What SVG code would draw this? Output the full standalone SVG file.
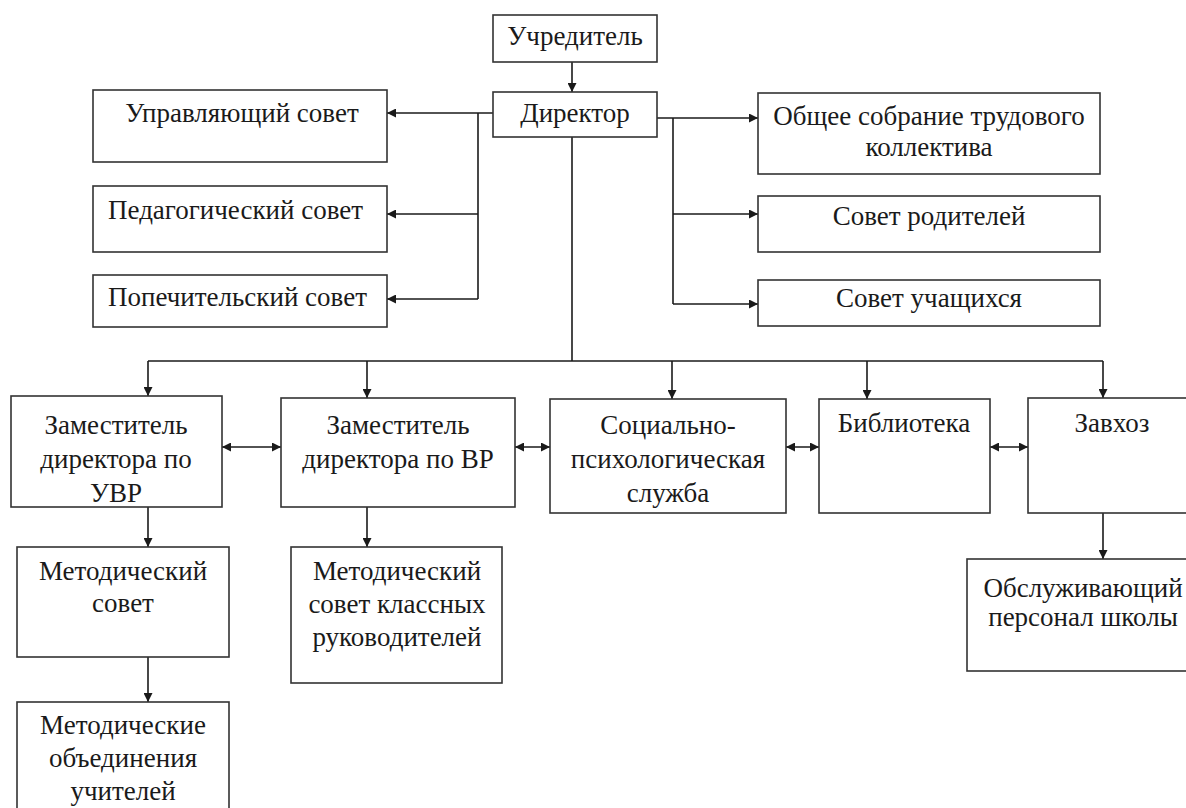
<svg xmlns="http://www.w3.org/2000/svg" width="1186" height="808" viewBox="0 0 1186 808">
<style>
.box{fill:#fff;stroke:#333;stroke-width:1.6}
text{font-family:'Liberation Serif','Times New Roman','DejaVu Serif',serif;font-size:27px;fill:#1a1a1a}
.t{text-anchor:middle}
.tl{text-anchor:start}
.c{fill:none;stroke:#1a1a1a;stroke-width:1.6}
.a{fill:none;stroke:#1a1a1a;stroke-width:1.6;marker-end:url(#ah)}
.d{fill:none;stroke:#1a1a1a;stroke-width:1.6;marker-start:url(#ah);marker-end:url(#ah)}
</style>
<defs>
<marker id="ah" viewBox="0 0 10 10" refX="10" refY="5" markerUnits="userSpaceOnUse" markerWidth="10" markerHeight="9" orient="auto-start-reverse">
<path d="M0,0 L10,5 L0,10 z" fill="#1a1a1a"/>
</marker>
</defs>
<rect width="1186" height="808" fill="#fff"/>

<g id="connectors">
<path class="a" d="M572,62 V92"/>
<path class="a" d="M493,113 H387"/>
<path class="c" d="M478,113 V299"/>
<path class="a" d="M478,214 H387"/>
<path class="a" d="M478,299 H387"/>
<path class="a" d="M657,118 H758"/>
<path class="c" d="M673,118 V304"/>
<path class="a" d="M673,214 H758"/>
<path class="a" d="M673,304 H758"/>
<path class="c" d="M572,137 V361"/>
<path class="c" d="M148,361 H1103"/>
<path class="a" d="M148,361 V396"/>
<path class="a" d="M367,361 V398"/>
<path class="a" d="M672,361 V399"/>
<path class="a" d="M867,361 V399"/>
<path class="a" d="M1103,361 V398"/>
<path class="d" d="M222,447 H281"/>
<path class="d" d="M515,447 H550"/>
<path class="d" d="M786,447 H819"/>
<path class="d" d="M990,447 H1028"/>
<path class="a" d="M148,507 V547"/>
<path class="a" d="M148,657 V702"/>
<path class="a" d="M367,507 V547"/>
<path class="a" d="M1103,513 V559"/>
</g>

<g id="uchreditel"><rect class="box" x="493" y="15" width="164" height="47"/><text class="t" x="575" y="45">Учредитель</text></g>
<g id="direktor"><rect class="box" x="493" y="92" width="164" height="45"/><text class="t" x="575" y="122">Директор</text></g>

<g id="upr-sovet"><rect class="box" x="93" y="90" width="294" height="72"/><text class="t" x="242" y="122">Управляющий совет</text></g>
<g id="ped-sovet"><rect class="box" x="93" y="186" width="294" height="66"/><text class="tl" x="108" y="219">Педагогический совет</text></g>
<g id="pop-sovet"><rect class="box" x="93" y="275" width="294" height="52"/><text class="tl" x="108" y="306">Попечительский совет</text></g>

<g id="obshee-sobranie"><rect class="box" x="758" y="93" width="342" height="81"/><text class="t" x="929" y="125">Общее собрание трудового</text><text class="t" x="929" y="156">коллектива</text></g>
<g id="sovet-roditeley"><rect class="box" x="758" y="196" width="342" height="56"/><text class="t" x="929" y="225">Совет родителей</text></g>
<g id="sovet-uchashchikhsya"><rect class="box" x="758" y="280" width="342" height="46"/><text class="t" x="929" y="307">Совет учащихся</text></g>

<g id="zam-uvr"><rect class="box" x="11" y="396" width="211" height="111"/><text class="t" x="116" y="434">Заместитель</text><text class="t" x="116" y="468">директора по</text><text class="t" x="116" y="502">УВР</text></g>
<g id="zam-vr"><rect class="box" x="281" y="398" width="234" height="109"/><text class="t" x="398" y="434">Заместитель</text><text class="t" x="398" y="468">директора по ВР</text></g>
<g id="social"><rect class="box" x="550" y="399" width="236" height="114"/><text class="t" x="668" y="434">Социально-</text><text class="t" x="668" y="468">психологическая</text><text class="t" x="668" y="502">служба</text></g>
<g id="biblioteka"><rect class="box" x="819" y="399" width="171" height="114"/><text class="t" x="904" y="432">Библиотека</text></g>
<g id="zavkhoz"><rect class="box" x="1028" y="398" width="170" height="115"/><text class="t" x="1112" y="432">Завхоз</text></g>

<g id="metod-sovet"><rect class="box" x="17" y="547" width="212" height="110"/><text class="t" x="123" y="580">Методический</text><text class="t" x="123" y="612">совет</text></g>
<g id="metod-obed"><rect class="box" x="17" y="702" width="212" height="120"/><text class="t" x="123" y="734">Методические</text><text class="t" x="123" y="767">объединения</text><text class="t" x="123" y="800">учителей</text></g>
<g id="metod-klass"><rect class="box" x="291" y="547" width="211" height="136"/><text class="t" x="397" y="580">Методический</text><text class="t" x="397" y="613">совет классных</text><text class="t" x="397" y="646">руководителей</text></g>
<g id="obsluzh"><rect class="box" x="967" y="559" width="232" height="112"/><text class="t" x="1083" y="597">Обслуживающий</text><text class="t" x="1083" y="626">персонал школы</text></g>
</svg>
